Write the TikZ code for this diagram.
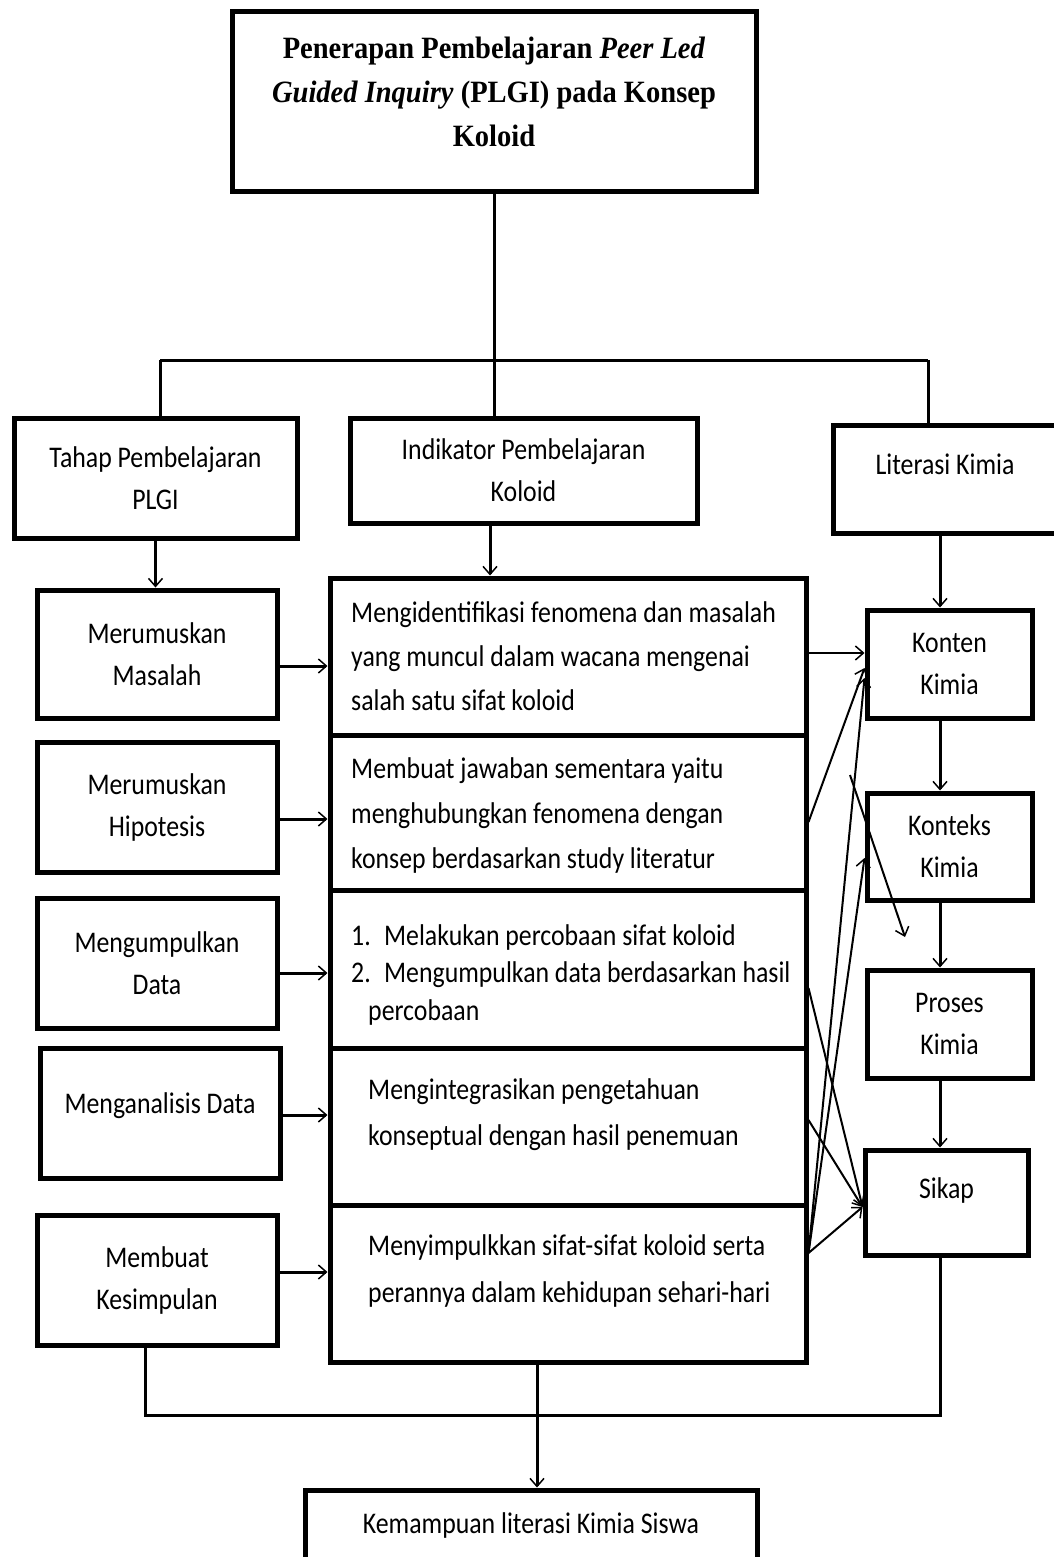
\documentclass[tikz,border=0pt]{standalone}
\usepackage{fontspec}
\usetikzlibrary{arrows.meta,calc}
\newfontfamily\bodyfont[FakeStretch=0.86]{Carlito}
\newfontfamily\titlefont[FakeStretch=0.92]{Liberation Serif}
\newcommand\bodysz[1]{\bodyfont\fontsize{30}{#1}\selectfont}
\tikzset{
  box/.style={draw, line width=5pt, inner sep=0pt, align=center, font=\bodysz{42}},
  rowtext/.style={inner sep=0pt, align=left, anchor=north west},
  conn/.style={line width=3pt},
  arr/.style={conn, -{Straight Barb[length=8pt,width=14pt,line width=1.5pt]}},
  arrthin/.style={line width=2pt, -{Straight Barb[length=8pt,width=14pt,line width=1.5pt]}},
}
\begin{document}
\begin{tikzpicture}[x=1pt,y=-1pt]
\path[use as bounding box] (0,0) rectangle (1054,1557);
\clip (0,0) rectangle (1054,1557);

% title
\node[box, minimum width=524, minimum height=180] (title) at (494,102) {};
\node[inner sep=0pt, align=center, font=\titlefont\bfseries\fontsize{31}{44}\selectfont] (titletxt) at (494,92)
  {Penerapan Pembelajaran \textit{Peer Led}\\\textit{Guided Inquiry} (PLGI) pada Konsep\\Koloid};

% second level
\node[box, minimum width=283, minimum height=120] (tahap) at (155.5,478) {Tahap Pembelajaran\\PLGI};
\node[box, minimum width=347, minimum height=105] (indikator) at (523.5,470.5) {Indikator Pembelajaran\\Koloid};
\node[box, minimum width=224, minimum height=108, text height=21pt, text depth=31pt] (literasi) at (945,479) {Literasi Kimia};

% left column
\node[box, minimum width=240, minimum height=128] (masalah) at (157,654) {Merumuskan\\Masalah};
\node[box, minimum width=240, minimum height=130] (hipotesis) at (157,807) {Merumuskan\\Hipotesis};
\node[box, minimum width=240, minimum height=130] (data) at (157,963) {Mengumpulkan\\Data};
\node[box, minimum width=240, minimum height=130, text height=21pt, text depth=21pt] (analisis) at (160,1113) {Menganalisis Data};
\node[box, minimum width=240, minimum height=130] (kesimpulan) at (157,1280) {Membuat\\Kesimpulan};

% middle rows
\node[box, minimum width=476, minimum height=157] (row1) at (568,656.5) {};
\node[box, minimum width=476, minimum height=155] (row2) at (568,812.5) {};
\node[box, minimum width=476, minimum height=158] (row3) at (568,969) {};
\node[box, minimum width=476, minimum height=157] (row4) at (568,1126.5) {};
\node[box, minimum width=476, minimum height=157] (row5) at (568,1283.5) {};

\node[rowtext, font=\bodysz{44}] (t1) at (351,601)
  {Mengidentifikasi fenomena dan masalah\\yang muncul dalam wacana mengenai\\salah satu sifat koloid};
\node[rowtext, font=\bodysz{45}] (t2) at (351,757)
  {Membuat jawaban sementara yaitu\\menghubungkan fenomena dengan\\konsep berdasarkan study literatur};
\node[rowtext, font=\bodysz{37.5}] (t3) at (351,924)
  {\makebox[33pt][l]{1.}Melakukan percobaan sifat koloid\\\makebox[33pt][l]{2.}Mengumpulkan data berdasarkan hasil\\\hspace*{17pt}percobaan};
\node[rowtext, font=\bodysz{46}] (t4) at (368,1078)
  {Mengintegrasikan pengetahuan\\konseptual dengan hasil penemuan};
\node[rowtext, font=\bodysz{47}] (t5) at (368,1234)
  {Menyimpulkkan sifat-sifat koloid serta\\perannya dalam kehidupan sehari-hari};

% right column
\node[box, minimum width=165, minimum height=108] (konten) at (949.5,664) {Konten\\Kimia};
\node[box, minimum width=165, minimum height=107] (konteks) at (949.5,846.5) {Konteks\\Kimia};
\node[box, minimum width=165, minimum height=108] (proses) at (949.5,1024) {Proses\\Kimia};
\node[box, minimum width=163, minimum height=105, text height=21pt, text depth=29pt] (sikap) at (946.5,1202.5) {Sikap};

% bottom
\node[box, minimum width=452, minimum height=70] (kemampuan) at (531,1525) {Kemampuan literasi Kimia Siswa};

% top connectors
\coordinate (hl) at (160,360);
\coordinate (hr) at (928,360);
\draw[conn] (title.south) -- (title.south |- indikator.north);
\draw[conn] (hl) -- (hr);
\draw[conn] (hl) -- (hl |- tahap.north);
\draw[conn] (hr) -- (hr |- literasi.north);

\draw[arr] (tahap.south) -- (tahap.south |- masalah.north);
\draw[arr] (indikator.south -| 490,0) -- (row1.north -| 490,0);
\draw[arr] (literasi.south -| 940,0) -- (konten.north -| 940,0);
\draw[arr] (konten.south -| 940,0) -- (konteks.north -| 940,0);
\draw[arr] (konteks.south -| 940,0) -- (proses.north -| 940,0);
\draw[arr] (proses.south -| 940,0) -- (sikap.north -| 940,0);

% left arrows
\draw[arr] ([yshift=-12pt]masalah.east) -- ([yshift=-12pt]masalah.east -| row1.west);
\draw[arr] ([yshift=-12pt]hipotesis.east) -- ([yshift=-12pt]hipotesis.east -| row2.west);
\draw[arr] ([yshift=-10pt]data.east) -- ([yshift=-10pt]data.east -| row3.west);
\draw[arr] ([yshift=-2pt]analisis.east) -- ([yshift=-2pt]analisis.east -| row4.west);
\draw[arr] ([yshift=8pt]kesimpulan.east) -- ([yshift=8pt]kesimpulan.east -| row5.west);

% crossing arrows
\draw[arrthin] (row1.east |- 0,653) -- (konten.west |- 0,653);
\draw[arrthin] (row2.east |- 0,822) -- (konten.west |- 0,668);
\draw[arrthin] (row5.east |- 0,1253) -- (konten.west |- 0,678);
\draw[arrthin] (row5.east |- 0,1253) -- (konteks.west |- 0,858);
\draw[arrthin] (row3.east |- 0,988) -- (sikap.west |- 0,1207);
\draw[arrthin] (row4.east |- 0,1120) -- (sikap.west |- 0,1207);
\draw[arrthin] (row5.east |- 0,1253) -- (sikap.west |- 0,1207);
\coordinate (fs) at (850,775);
\coordinate (fe) at (905,937);
\draw[arrthin] (fs) -- (fe);

% bottom connectors
\coordinate (bl) at (145,1415);
\coordinate (br) at (940,1415);
\coordinate (bm) at (537,1415);
\draw[conn] (kesimpulan.south -| bl) -- (bl) -- (br) -- (sikap.south -| br);
\draw[conn] (row5.south -| bm) -- (bm);
\draw[arr] (bm) -- (kemampuan.north -| bm);
\end{tikzpicture}
\end{document}
